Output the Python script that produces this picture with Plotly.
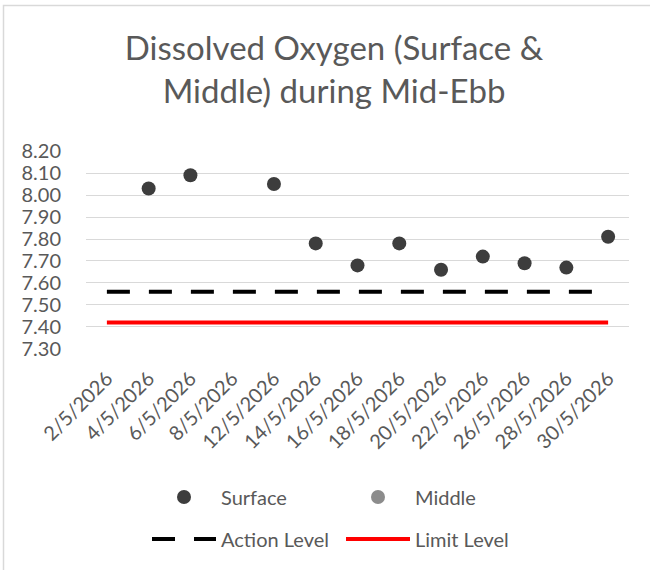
import plotly.graph_objects as go

dates = ["2/5/2026", "4/5/2026", "6/5/2026", "8/5/2026", "12/5/2026", "14/5/2026",
         "16/5/2026", "18/5/2026", "20/5/2026", "22/5/2026", "26/5/2026", "28/5/2026",
         "30/5/2026"]
surface = [None, 8.03, 8.09, None, 8.05, 7.78, 7.68, 7.78, 7.66, 7.72, 7.69, 7.67, 7.81]
middle = [None, None, None, None, None, None, None, None, None, None, None, None, None]
action_level = [7.56, 7.56, 7.56, 7.56, 7.56, 7.56, 7.56, 7.56, 7.56, 7.56, 7.56, 7.56, 7.56]
limit_level = [7.42, 7.42, 7.42, 7.42, 7.42, 7.42, 7.42, 7.42, 7.42, 7.42, 7.42, 7.42, 7.42]
y_ticks = [7.30, 7.40, 7.50, 7.60, 7.70, 7.80, 7.90, 8.00, 8.10, 8.20]

FONT = "Lato, 'Open Sans', sans-serif"
TXT = "#595959"
W, H = 650, 570

fig = go.Figure()
fig.add_trace(go.Scatter(x=dates, y=action_level, mode="lines", name="Action Level",
                         line=dict(color="#000000", width=4, dash="23px,19px"),
                         legend="legend4", cliponaxis=False))
fig.add_trace(go.Scatter(x=dates, y=limit_level, mode="lines", name="Limit Level",
                         line=dict(color="#ff0000", width=4),
                         legend="legend5", cliponaxis=False))
fig.add_trace(go.Scatter(x=dates, y=surface, mode="markers", name="Surface",
                         marker=dict(color="#3d3d3d", size=14),
                         legend="legend2", cliponaxis=False))
fig.add_trace(go.Scatter(x=dates, y=middle, mode="markers", name="Middle",
                         marker=dict(color="#8c8c8c", size=14),
                         legend="legend3", cliponaxis=False))

def leg(px, py):
    return dict(x=px / W, y=1 - py / H, xref="container", yref="container",
                xanchor="left", yanchor="middle", orientation="h",
                font=dict(family=FONT, size=20, color=TXT),
                bgcolor="rgba(0,0,0,0)", itemwidth=64, traceorder="normal")

fig.update_layout(
    width=W, height=H,
    showlegend=True,
    paper_bgcolor="white", plot_bgcolor="white",
    margin=dict(l=86, r=21, t=151, b=221),
    title=dict(text="Dissolved Oxygen (Surface &<br>Middle) during Mid-Ebb",
               x=334 / W, xanchor="center", xref="container",
               y=1 - 60 / H, yanchor="top", yref="container",
               font=dict(family=FONT, size=33, color=TXT)),
    font=dict(family=FONT, color=TXT),
    legend2=leg(147, 497),
    legend3=leg(341, 497),
    legend4=leg(147, 539),
    legend5=leg(341, 539),
    xaxis=dict(type="category", categoryorder="array", categoryarray=dates,
               range=[-0.5, len(dates) - 0.5], showgrid=False, zeroline=False,
               showline=False, ticks="", tickangle=-45,
               ticklabelstandoff=13,
               tickfont=dict(family=FONT, size=20, color=TXT)),
    yaxis=dict(range=[7.2995, 8.2005], tickvals=y_ticks, tickformat=".2f",
               showgrid=True, gridcolor="#d9d9d9", gridwidth=1.3,
               zeroline=False, showline=False, ticks="",
               ticklabelstandoff=24,
               tickfont=dict(family=FONT, size=20, color=TXT)),
    shapes=[dict(type="rect", xref="paper", yref="paper",
                 x0=(3.5 - 86) / 543, x1=(660 - 86) / 543,
                 y0=(349 - 580) / 198, y1=(349 - 5.5) / 198,
                 line=dict(color="#d9d9d9", width=1.5), fillcolor="rgba(0,0,0,0)",
                 layer="below")],
)

fig.write_html("out.html", config={"displayModeBar": False},
               post_script="document.body.style.margin='0';document.body.style.overflow='hidden';")
